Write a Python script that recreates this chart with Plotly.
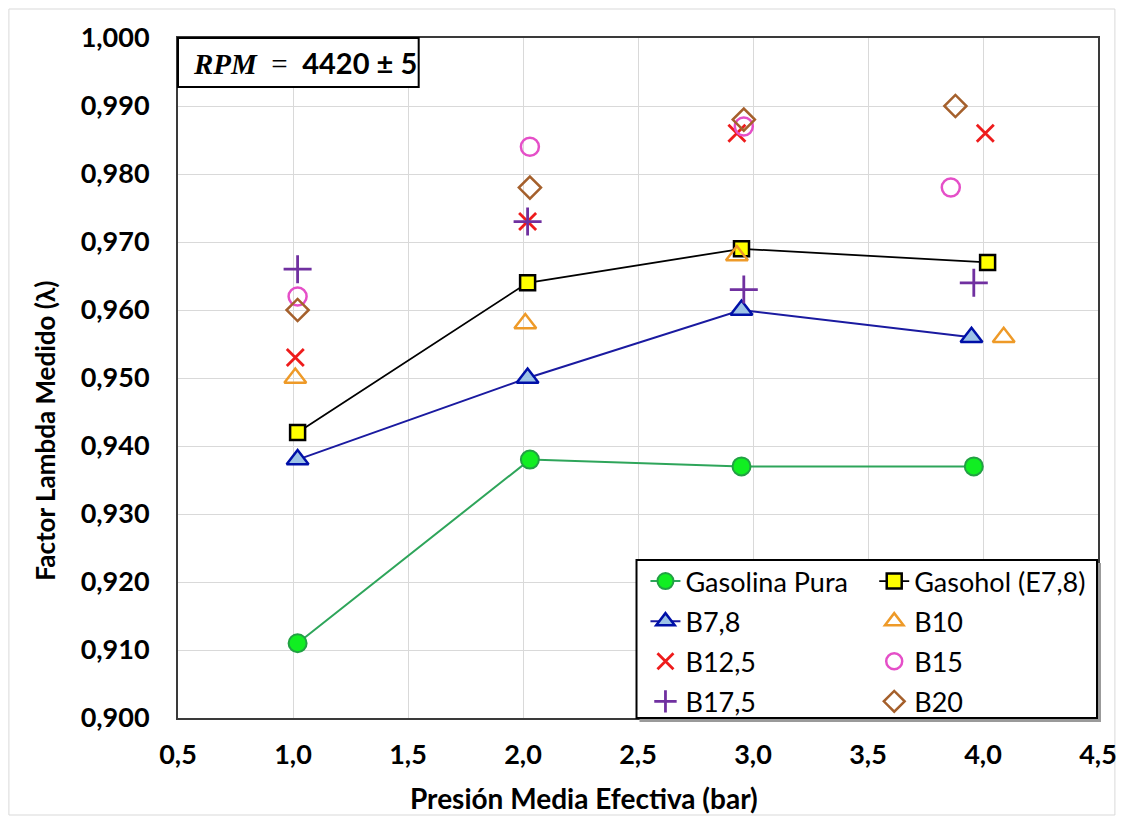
import plotly.graph_objects as go

# ---- data: measured lambda factor vs. brake mean effective pressure ----
gasolina_x = [1.02, 2.03, 2.95, 3.96]
gasolina_y = [0.911, 0.938, 0.937, 0.937]

gasohol_x = [1.02, 2.02, 2.95, 4.02]
gasohol_y = [0.942, 0.964, 0.969, 0.967]

b78_x = [1.02, 2.02, 2.95, 3.95]
b78_y = [0.938, 0.950, 0.960, 0.956]

b10_x = [1.01, 2.01, 2.93, 4.09]
b10_y = [0.950, 0.958, 0.968, 0.956]

b125_x = [1.01, 2.02, 2.93, 4.01]
b125_y = [0.953, 0.973, 0.986, 0.986]

b15_x = [1.02, 2.03, 2.96, 3.86]
b15_y = [0.962, 0.984, 0.987, 0.978]

b175_x = [1.02, 2.02, 2.96, 3.96]
b175_y = [0.966, 0.973, 0.963, 0.964]

b20_x = [1.02, 2.03, 2.96, 3.88]
b20_y = [0.960, 0.978, 0.988, 0.990]

FONT = "Lato, 'Noto Sans', sans-serif"
TICK_FONT = dict(family=FONT, size=27, color="black", weight="bold")

W, H = 1129, 820
L, R, T, B = 178, 26, 38, 102
PW, PH = W - L - R, H - T - B


def px_x(p):
    return (p - L) / PW


def px_y(p):
    return (H - B - p) / PH


fig = go.Figure()

# series joined by lines
fig.add_trace(go.Scatter(
    x=gasolina_x, y=gasolina_y, mode="lines+markers", name="Gasolina Pura",
    line=dict(color="#2ea55a", width=2),
    marker=dict(symbol="circle", size=18, color="#11ee22",
                line=dict(color="#22a044", width=2)),
    legend="legend", legendgroup="g1"))
fig.add_trace(go.Scatter(
    x=b78_x, y=b78_y, mode="lines+markers", name="B7,8",
    line=dict(color="#1a1aa0", width=2),
    marker=dict(symbol="triangle-up", size=19, color="#9dc3e6",
                line=dict(color="#0010a8", width=2.5)),
    legend="legend", legendgroup="g3"))
fig.add_trace(go.Scatter(
    x=gasohol_x, y=gasohol_y, mode="lines+markers", name="Gasohol (E7,8)",
    line=dict(color="black", width=1.8),
    marker=dict(symbol="square", size=15, color="#ffff00",
                line=dict(color="black", width=2.5)),
    legend="legend2", legendgroup="g2"))

# blends shown as markers only
fig.add_trace(go.Scatter(
    x=b10_x, y=b10_y, mode="markers", name="B10",
    marker=dict(symbol="triangle-up-open", size=19, color="#ee9a28",
                line=dict(width=2.5)),
    legend="legend2", legendgroup="g4"))
fig.add_trace(go.Scatter(
    x=b125_x, y=b125_y, mode="markers", name="B12,5",
    marker=dict(symbol="x-thin-open", size=17, color="#ee1c1c",
                line=dict(width=2.8, color="#ee1c1c")),
    legend="legend", legendgroup="g5"))
fig.add_trace(go.Scatter(
    x=b15_x, y=b15_y, mode="markers", name="B15",
    marker=dict(symbol="circle-open", size=18, color="#e54fc8",
                line=dict(width=2.5)),
    legend="legend2", legendgroup="g6"))
fig.add_trace(go.Scatter(
    x=b175_x, y=b175_y, mode="markers", name="B17,5",
    marker=dict(symbol="cross-thin-open", size=20, color="#7030a0",
                line=dict(width=2.8, color="#7030a0")),
    legend="legend", legendgroup="g7"))
fig.add_trace(go.Scatter(
    x=b20_x, y=b20_y, mode="markers", name="B20",
    marker=dict(symbol="diamond-open", size=17, color="#a5602c",
                line=dict(width=2.5)),
    legend="legend2", legendgroup="g8"))

legend_common = dict(
    orientation="v", bgcolor="rgba(0,0,0,0)", borderwidth=0,
    font=dict(family=FONT, size=27, color="black"),
    tracegroupgap=2, xanchor="left", yanchor="top", itemwidth=30,
)

shapes = [
    # outer chart frame
    dict(type="rect", xref="paper", yref="paper",
         x0=px_x(8), x1=px_x(1120), y0=px_y(815), y1=px_y(9),
         line=dict(color="#d9d9d9", width=1), layer="below"),
    # legend box shadow and frame
    dict(type="rect", xref="paper", yref="paper",
         x0=px_x(642), x1=px_x(1106), y0=px_y(722), y1=px_y(563),
         line=dict(width=0), fillcolor="#9a9a9a", layer="above"),
    dict(type="rect", xref="paper", yref="paper",
         x0=px_x(639), x1=px_x(1102), y0=px_y(718), y1=px_y(560),
         line=dict(color="black", width=2), fillcolor="white", layer="above"),
    # RPM label box
    dict(type="rect", xref="paper", yref="paper",
         x0=px_x(178), x1=px_x(420), y0=px_y(87), y1=px_y(38),
         line=dict(color="black", width=2), fillcolor="white", layer="above"),
]

annotations = [
    dict(xref="paper", yref="paper", x=px_x(191), y=px_y(63),
         xanchor="left", yanchor="middle", showarrow=False,
         text=("<span style=\"font-family:'Liberation Serif';font-style:italic;"
               "font-weight:bold\">RPM</span>"
               "<span style=\"font-family:'Liberation Serif'\">  =  </span>"
               "<b>4420 ± 5</b>"),
         font=dict(family=FONT, size=29, color="black")),
    dict(xref="paper", yref="paper", x=px_x(586), y=px_y(798),
         xanchor="center", yanchor="middle", showarrow=False,
         text="<b>Presión Media Efectiva (bar)</b>",
         font=dict(family=FONT, size=28, color="black")),
    dict(xref="paper", yref="paper", x=px_x(44), y=px_y(431),
         xanchor="center", yanchor="middle", showarrow=False, textangle=-90,
         text="<b>Factor Lambda Medido (λ)</b>",
         font=dict(family=FONT, size=26, color="black")),
]

fig.update_layout(
    width=W, height=H,
    margin=dict(l=L, r=R, t=T, b=B),
    paper_bgcolor="white", plot_bgcolor="white",
    separators=",.",
    showlegend=True,
    legend=dict(x=px_x(648), y=px_y(557), **legend_common),
    legend2=dict(x=px_x(878), y=px_y(557), **legend_common),
    shapes=shapes,
    annotations=annotations,
    xaxis=dict(
        range=[0.5, 4.5], dtick=0.5, tick0=0.5, tickformat=".1f",
        showgrid=True, gridcolor="#d9d9d9", gridwidth=1,
        showline=True, linecolor="#3a3a3a", linewidth=2, mirror=True,
        ticks="", tickfont=TICK_FONT, ticklabelstandoff=12, zeroline=False,
    ),
    yaxis=dict(
        range=[0.9, 1.0], dtick=0.01, tick0=0.9, tickformat=".3f",
        showgrid=True, gridcolor="#d9d9d9", gridwidth=1,
        showline=True, linecolor="#3a3a3a", linewidth=2, mirror=True,
        ticks="", tickfont=TICK_FONT, ticklabelstandoff=21, zeroline=False,
    ),
)

fig.write_html("out.html")
